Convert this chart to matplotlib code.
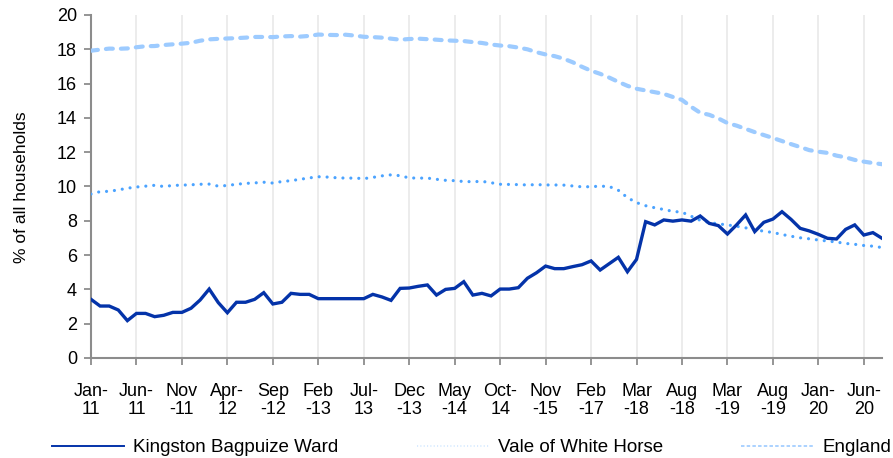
import matplotlib
matplotlib.use("Agg")
import matplotlib.pyplot as plt
from matplotlib.lines import Line2D

plt.rcParams['font.family'] = ['Liberation Sans', 'DejaVu Sans']
plt.rcParams['lines.scale_dashes'] = False

tick_labels = ["Jan-\n11", "Jun-\n11", "Nov\n-11", "Apr-\n12", "Sep\n-12", "Feb\n-13",
               "Jul-\n13", "Dec\n-13", "May\n-14", "Oct-\n14", "Nov\n-15", "Feb\n-17",
               "Mar\n-18", "Aug\n-18", "Mar\n-19", "Aug\n-19", "Jan-\n20", "Jun-\n20"]

kingston = [3.42, 3.03, 3.03, 2.80, 2.18, 2.60, 2.60, 2.41, 2.49, 2.66,
            2.66, 2.90, 3.38, 4.02, 3.23, 2.64, 3.25, 3.25, 3.42, 3.81,
            3.15, 3.25, 3.77, 3.71, 3.71, 3.46, 3.46, 3.46, 3.46, 3.46,
            3.46, 3.71, 3.56, 3.36, 4.06, 4.08, 4.18, 4.26, 3.67, 4.00,
            4.06, 4.45, 3.67, 3.77, 3.62, 4.02, 4.02, 4.10, 4.65, 4.97,
            5.36, 5.21, 5.21, 5.33, 5.44, 5.66, 5.13, 5.50, 5.87, 5.03,
            5.75, 7.95, 7.76, 8.05, 7.98, 8.05, 7.98, 8.28, 7.85, 7.72,
            7.23, 7.76, 8.34, 7.37, 7.91, 8.10, 8.53, 8.08, 7.56, 7.41,
            7.21, 6.98, 6.94, 7.50, 7.76, 7.17, 7.31, 6.98]

vale = [9.56, 9.70, 9.72, 9.80, 9.90, 9.97, 10.02, 10.07, 10.00, 10.06,
        10.08, 10.10, 10.13, 10.14, 10.02, 10.06, 10.13, 10.18, 10.21, 10.25,
        10.20, 10.29, 10.34, 10.42, 10.50, 10.57, 10.55, 10.51, 10.49, 10.49,
        10.46, 10.53, 10.62, 10.68, 10.63, 10.50, 10.49, 10.49, 10.42, 10.36,
        10.34, 10.29, 10.28, 10.30, 10.22, 10.13, 10.12, 10.11, 10.09, 10.11,
        10.09, 10.09, 10.08, 10.03, 9.98, 9.99, 10.02, 10.00, 9.78, 9.35,
        9.06, 8.88, 8.76, 8.66, 8.55, 8.50, 8.27, 8.03, 7.90, 7.82,
        7.76, 7.68, 7.59, 7.49, 7.39, 7.32, 7.20, 7.10, 7.01, 6.95,
        6.88, 6.82, 6.76, 6.68, 6.63, 6.56, 6.52, 6.44]

england = [17.92, 17.98, 18.04, 18.03, 18.05, 18.12, 18.18, 18.19, 18.25, 18.29,
           18.33, 18.38, 18.50, 18.58, 18.61, 18.63, 18.65, 18.68, 18.72, 18.72,
           18.71, 18.75, 18.77, 18.74, 18.78, 18.86, 18.84, 18.83, 18.85, 18.80,
           18.73, 18.71, 18.68, 18.62, 18.56, 18.60, 18.62, 18.59, 18.56, 18.52,
           18.50, 18.48, 18.42, 18.37, 18.28, 18.22, 18.18, 18.10, 18.00, 17.83,
           17.70, 17.60, 17.45, 17.24, 16.98, 16.75, 16.57, 16.35, 16.10, 15.87,
           15.70, 15.60, 15.50, 15.40, 15.22, 15.05, 14.65, 14.30, 14.18, 13.97,
           13.70, 13.55, 13.36, 13.17, 13.00, 12.83, 12.65, 12.47, 12.30, 12.12,
           12.03, 11.96, 11.80, 11.70, 11.55, 11.45, 11.37, 11.30]

series_names = ["Kingston Bagpuize Ward", "Vale of White Horse", "England"]
c_king, c_vale, c_eng = "#0433A9", "#4BA3FF", "#9DCBFF"

fig = plt.figure(figsize=(8.93, 4.58), dpi=100)
ax = fig.add_axes([91/893, 1-358/458, (882-91)/893, (358-15)/458])

x = list(range(len(kingston)))
ax.plot(x, england, color=c_eng, lw=3.0, dashes=(5.0, 5.8), dash_capstyle='round', zorder=3)
ax.plot(x, vale, color=c_vale, lw=2.3, dashes=(0.01, 5.7), dash_capstyle='round', zorder=3)
ax.plot(x, kingston, color=c_king, lw=2.4, solid_joinstyle='miter', zorder=4)

ax.set_xlim(0, len(kingston) - 1)
ax.set_ylim(0, 20)
ax.set_yticks(range(0, 21, 2))
tick_pos = list(range(0, 5 * len(tick_labels), 5))
ax.set_xticks(tick_pos)
ax.set_xticklabels(tick_labels, fontsize=13, linespacing=1.05)
ax.tick_params(axis='y', labelsize=13, length=5, width=1.3, color='#8c8c8c', pad=5)
ax.tick_params(axis='x', length=5, width=1.3, color='#8c8c8c', pad=13)
ax.grid(axis='x', color='#ebebeb', lw=1.3, zorder=0)
ax.set_axisbelow(True)
for s in ['top', 'right']:
    ax.spines[s].set_visible(False)
for s in ['left', 'bottom']:
    ax.spines[s].set_color('#8c8c8c')
    ax.spines[s].set_linewidth(1.5)

fig.text(22/893, 1-187/458, "% of all households", rotation=90, fontsize=12.5,
         ha='center', va='center')

handles = [
    Line2D([], [], color=c_king, lw=1.4),
    Line2D([], [], color="#d2e8ff", lw=1.2, dashes=(0.8, 1.6)),
    Line2D([], [], color=c_eng, lw=1.2, dashes=(2.5, 1.6)),
]
fig.legend(handles, series_names, ncol=3, loc='lower left', mode='expand',
           bbox_to_anchor=(50/893, 0.0, (893-50)/893, 0.05), frameon=False,
           fontsize=13.5, handlelength=3.85, handletextpad=0.48, borderaxespad=0.1,
           borderpad=0.0)

fig.savefig("out.png", dpi=100)
